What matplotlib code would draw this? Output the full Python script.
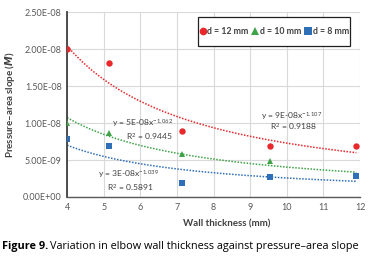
import numpy as np
import matplotlib
matplotlib.use("Agg")
import matplotlib.pyplot as plt
from matplotlib.patches import Rectangle
from matplotlib.ticker import FuncFormatter, MultipleLocator

plt.rcParams['font.family'] = ['Lato', 'DejaVu Sans']
plt.rcParams['mathtext.fontset'] = 'custom'
plt.rcParams['mathtext.rm'] = 'Lato'
plt.rcParams['mathtext.it'] = 'Lato:italic'
plt.rcParams['mathtext.bf'] = 'Lato:bold'

# data
thick = [4.0, 5.15, 7.15, 9.55, 11.9]
slope_12 = [2.0e-8, 1.81e-8, 8.9e-9, 6.9e-9, 6.9e-9]
slope_10 = [1.0e-8, 8.7e-9, 5.8e-9, 4.8e-9, 3.0e-9]
slope_8 = [7.9e-9, 6.9e-9, 1.85e-9, 2.75e-9, 2.85e-9]

labels = ['d = 12 mm', 'd = 10 mm', 'd = 8 mm']
eqs = ['y = 9E-08x$^{\\mathregular{-1.107}}$', 'y = 5E-08x$^{\\mathregular{-1.062}}$',
       'y = 3E-08x$^{\\mathregular{-1.039}}$']
r2s = ['R$^{\\mathregular{2}}$ = 0.9188', 'R$^{\\mathregular{2}}$ = 0.9445',
       'R$^{\\mathregular{2}}$ = 0.5891']

colors = ['#e8282b', '#3fa447', '#2f6fb8']
markers = ['o', '^', 's']

fig = plt.figure(figsize=(3.77, 2.63), dpi=100)
ax = fig.add_axes([0.178, 0.251, 0.777, 0.703])

series = [slope_12, slope_10, slope_8]
xs = np.linspace(min(thick), max(thick), 100)
for ys, c in zip(series, colors):
    # power trendline, same as excel (log-log least squares)
    b, a = np.polyfit(np.log(thick), np.log(ys), 1)
    ax.plot(xs, np.exp(a) * xs ** b, linestyle=(0, (1, 1)), color=c, lw=1.1, zorder=2)
for ys, c, m, lab in zip(series, colors, markers, labels):
    ax.plot(thick, ys, linestyle='none', marker=m, color=c, markersize=4.6, mew=0,
            label=lab, zorder=3)

ax.set_xlim(4, 12)
ax.set_ylim(0, 2.5e-8)
ax.xaxis.set_major_locator(MultipleLocator(1))
ax.yaxis.set_major_locator(MultipleLocator(0.5e-8))
ax.yaxis.set_major_formatter(FuncFormatter(lambda v, p: "{0:.2E}".format(v)))
ax.grid(True, color='#d9d9d9', lw=0.8)
ax.set_axisbelow(True)
for s in ['top', 'right']:
    ax.spines[s].set_visible(False)
ax.spines['left'].set_color('#404040')
ax.spines['left'].set_linewidth(1.3)
ax.spines['bottom'].set_color('#595959')
ax.spines['bottom'].set_linewidth(1.0)
ax.tick_params(length=0, labelsize=6.5, colors='#595959', pad=4)

ax.set_xlabel('Wall thickness (mm)', fontsize=7, fontweight='bold', color='#404040')
ax.xaxis.set_label_coords(0.545, -0.12)
ax.set_ylabel('Pressure\u2013area slope ($\\mathbfit{M}$)', fontsize=7, fontweight='bold',
              color='#404040', labelpad=4)

# legend box drawn by hand, legend itself without frame
ax.add_patch(Rectangle((0.447, 0.816), 0.519, 0.157, transform=ax.transAxes,
                       facecolor='white', edgecolor='#202020', lw=0.9, zorder=4,
                       clip_on=False))
leg = ax.legend(loc='center', ncol=3, frameon=False,
                prop={'size': 6.3, 'weight': 'bold'}, markerscale=1.2,
                handletextpad=0.15, columnspacing=0.35, handlelength=0.8,
                borderpad=0, bbox_to_anchor=(0.7065, 0.8945))
leg.set_zorder(5)
for t in leg.get_texts():
    t.set_color('#404040')

# trendline equations (x centre eq, x centre R2, y eq, y R2)
eq_pos = [(10.12, 10.17, 1.10e-8, 9.5e-9),
          (6.05, 6.25, 9.95e-9, 8.15e-9),
          (5.67, 5.72, 3.05e-9, 1.3e-9)]
for (ex, rx, ey, ry), e, r in zip(eq_pos, eqs, r2s):
    ax.text(ex, ey, e, fontsize=6.1, color='#404040', ha='center', va='center')
    ax.text(rx, ry, r, fontsize=6.1, color='#404040', ha='center', va='center')

# caption
fig.canvas.draw()
t1 = fig.text(0.005, 0.053, 'Figure 9.', fontsize=7.8, fontweight='bold', family='Open Sans')
r = fig.canvas.get_renderer()
bb = t1.get_window_extent(r)
fig.text((bb.x1 + 2) / fig.bbox.width, 0.053,
         'Variation in elbow wall thickness against pressure\u2013area slope',
         fontsize=7.8, family='Open Sans')

fig.savefig('out.png', dpi=100)
